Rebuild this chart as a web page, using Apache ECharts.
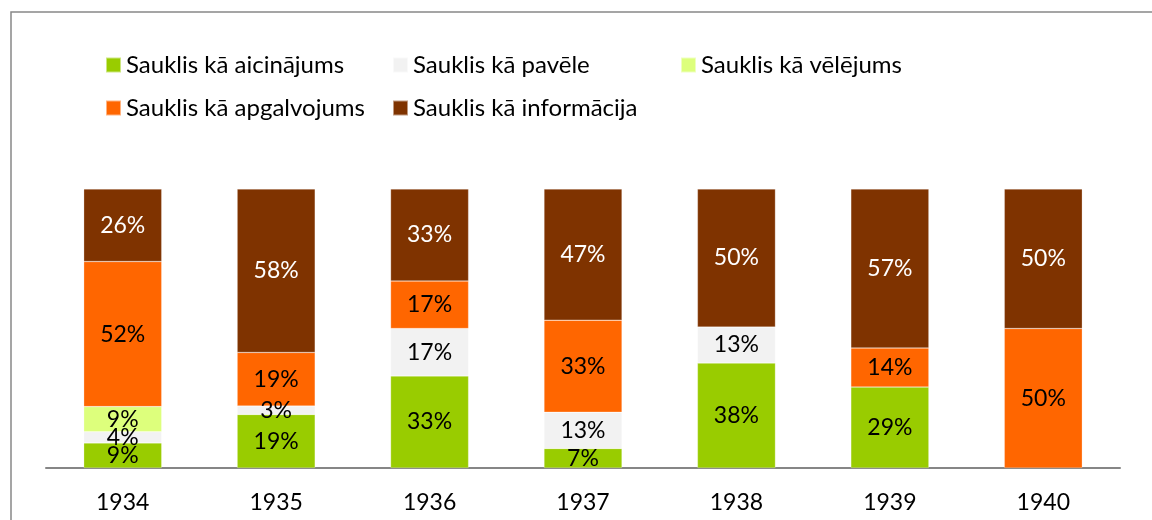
<!DOCTYPE html>
<html>
<head>
<meta charset="utf-8">
<script src="https://cdn.jsdelivr.net/npm/echarts@6/dist/echarts.min.js"></script>
<style>
  html, body { margin: 0; padding: 0; background: #fff; }
  #main { width: 1152px; height: 520px; }
</style>
</head>
<body>
<div id="main"></div>
<script>
var years = ['1934', '1935', '1936', '1937', '1938', '1939', '1940'];
var names = ['Sauklis kā aicinājums', 'Sauklis kā pavēle', 'Sauklis kā vēlējums', 'Sauklis kā apgalvojums', 'Sauklis kā informācija'];
var aicinajums = [9, 19, 33, 7, 38, 29, 0];
var pavele = [4, 3, 17, 13, 13, 0, 0];
var velejums = [9, 0, 0, 0, 0, 0, 0];
var apgalvojums = [52, 19, 17, 33, 0, 14, 50];
var informacija = [26, 58, 33, 47, 50, 57, 50];
var colors = ['#99cc00', '#f2f2f2', '#ddff7c', '#ff6600', '#7f3300'];

window.onload = function () {
    var myChart = echarts.init(document.getElementById('main'));
    var all = [aicinajums, pavele, velejums, apgalvojums, informacija];
    // 100% stacked: each column is scaled to its own total
    var totals = years.map(function (y, i) {
        return all.reduce(function (s, arr) { return s + arr[i]; }, 0);
    });
    var font = 'Lato, "Liberation Sans", sans-serif';

    var series = all.map(function (arr, k) {
        return {
            name: names[k],
            type: 'bar',
            stack: 'total',
            barWidth: 78,
            itemStyle: { color: colors[k], borderColor: 'rgba(255,255,255,0.5)', borderWidth: 0.5 },
            label: {
                show: true,
                position: 'inside',
                fontFamily: font,
                fontSize: 23,
                color: k === 4 ? '#ffffff' : '#000000',
                formatter: function (p) { return arr[p.dataIndex] + '%'; }
            },
            data: arr.map(function (v, i) {
                return v ? v / totals[i] * 100 : '-';
            })
        };
    });

    var legendPos = [[100, 48], [387, 48], [675, 48], [100, 91], [387, 91]];
    var legends = names.map(function (n, k) {
        return {
            data: [n],
            left: legendPos[k][0],
            top: legendPos[k][1],
            itemWidth: 15,
            itemHeight: 15,
            itemGap: 6,
            icon: 'rect',
            textStyle: { fontFamily: font, fontSize: 24, color: '#000' },
            selectedMode: false
        };
    });

    var option = {
        animation: false,
        legend: legends,
        graphic: [{
            type: 'rect',
            shape: { x: 11, y: 12, width: 1160, height: 530 },
            style: { fill: 'none', stroke: '#888', lineWidth: 1.5 },
            silent: true
        }],
        grid: { left: 46, right: 32, top: 189, bottom: 52 },
        xAxis: {
            type: 'category',
            data: years,
            axisLine: { lineStyle: { color: '#868686', width: 2 } },
            axisTick: { show: false },
            axisLabel: { fontFamily: font, fontSize: 23, color: '#000', margin: 23 }
        },
        yAxis: {
            type: 'value',
            min: 0,
            max: 100,
            show: false,
            splitLine: { show: false }
        },
        series: series
    };
    myChart.setOption(option);
    window.addEventListener('resize', function () {
        myChart.resize();
    });
};
</script>
</body>
</html>
